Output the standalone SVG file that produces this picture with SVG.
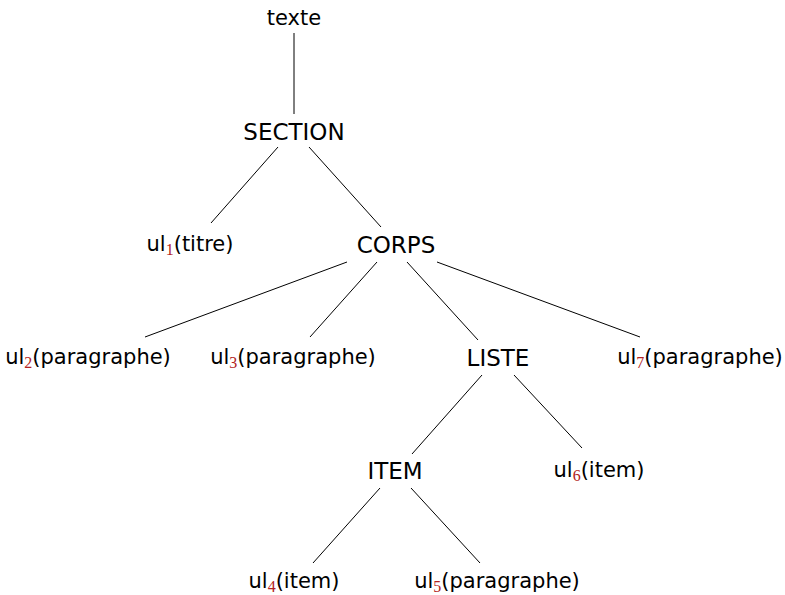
<svg xmlns="http://www.w3.org/2000/svg" width="785" height="595" viewBox="0 0 785 595">
  <style>
    .lbl { font-family: "DejaVu Sans", "Liberation Sans", sans-serif; font-size: 21px; fill: #000; text-anchor: middle; }
    .cap { font-size: 23px; }
    .sub { font-family: "Liberation Serif", "DejaVu Serif", serif; font-size: 16px; fill: #b22222; }
    .edge { stroke: #000; stroke-width: 1; fill: none; }
  </style>
  <rect width="785" height="595" fill="#fff"/>

  <!-- tree edges -->
  <g id="edges">
    <line class="edge" x1="294" y1="33" x2="294" y2="114"/>
    <line class="edge" x1="278" y1="147" x2="211" y2="223"/>
    <line class="edge" x1="309" y1="147" x2="381" y2="227"/>
    <line class="edge" x1="347" y1="262" x2="145" y2="337"/>
    <line class="edge" x1="377" y1="262" x2="310" y2="337"/>
    <line class="edge" x1="407" y1="262" x2="478" y2="340"/>
    <line class="edge" x1="437" y1="262" x2="640" y2="337"/>
    <line class="edge" x1="482" y1="375" x2="412" y2="454"/>
    <line class="edge" x1="514" y1="375" x2="582" y2="448"/>
    <line class="edge" x1="380" y1="488" x2="313" y2="563"/>
    <line class="edge" x1="411" y1="488" x2="480" y2="563"/>
  </g>

  <!-- tree nodes -->
  <g id="texte"><text class="lbl" x="294" y="25">texte</text></g>
  <g id="section"><text class="lbl cap" x="294" y="140">SECTION</text></g>
  <g id="ul1"><text class="lbl" x="190" y="251">ul<tspan class="sub" dy="4">1</tspan><tspan dy="-4">(titre)</tspan></text></g>
  <g id="corps"><text class="lbl cap" x="396" y="253">CORPS</text></g>
  <g id="ul2"><text class="lbl" x="88" y="364">ul<tspan class="sub" dy="4">2</tspan><tspan dy="-4">(paragraphe)</tspan></text></g>
  <g id="ul3"><text class="lbl" x="293" y="364">ul<tspan class="sub" dy="4">3</tspan><tspan dy="-4">(paragraphe)</tspan></text></g>
  <g id="liste"><text class="lbl cap" x="498" y="366">LISTE</text></g>
  <g id="ul7"><text class="lbl" x="700" y="364">ul<tspan class="sub" dy="4">7</tspan><tspan dy="-4">(paragraphe)</tspan></text></g>
  <g id="item"><text class="lbl cap" x="395" y="479">ITEM</text></g>
  <g id="ul6"><text class="lbl" x="599" y="477">ul<tspan class="sub" dy="4">6</tspan><tspan dy="-4">(item)</tspan></text></g>
  <g id="ul4"><text class="lbl" x="294" y="588">ul<tspan class="sub" dy="4">4</tspan><tspan dy="-4">(item)</tspan></text></g>
  <g id="ul5"><text class="lbl" x="497" y="588">ul<tspan class="sub" dy="4">5</tspan><tspan dy="-4">(paragraphe)</tspan></text></g>
</svg>
